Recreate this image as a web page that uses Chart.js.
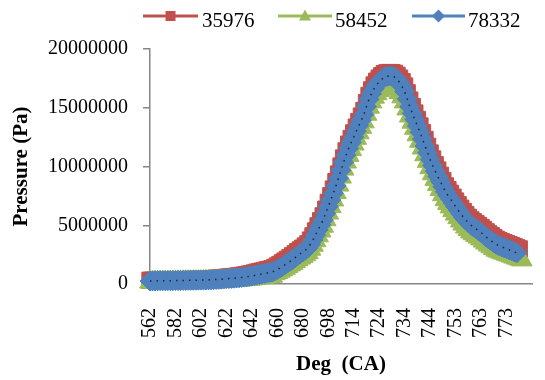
<!DOCTYPE html>
<html>
<head>
<meta charset="utf-8">
<script src="https://cdn.jsdelivr.net/npm/chart.js"></script>
<style>
  html, body { margin: 0; padding: 0; background: #ffffff; }
  #wrap { width: 545px; height: 380px; position: relative; }
</style>
</head>
<body>
<div id="wrap"><canvas id="c"></canvas></div>
<script>
// Crank angle categories (deg CA)
const categories = [
  562, 564, 566, 568, 570, 572, 574, 576, 578, 580,
  582, 584, 586, 588, 590, 592, 594, 596, 598, 600,
  602, 604, 606, 608, 610, 612, 614, 616, 618, 620,
  622, 624, 626, 628, 630, 632, 634, 636, 638, 640,
  642, 644, 646, 647, 649, 651, 653, 655, 656, 658,
  660, 662, 664, 666, 668, 670, 672, 674, 676, 678,
  680, 682, 684, 685, 687, 689, 691, 693, 694, 696,
  698, 700, 701, 703, 704, 706, 708, 709, 711, 712,
  714, 715, 716, 717, 718, 719, 720, 721, 722, 723,
  724, 725, 726, 727, 728, 729, 730, 731, 732, 733,
  734, 735, 736, 737, 738, 739, 740, 741, 742, 743,
  744, 744.9, 745.8, 746.7, 747.6, 748.5, 749.4, 750.3, 751.2, 752.1,
  753, 754, 755, 756, 757, 758, 759, 760, 761, 762,
  763, 764, 765, 766, 767, 768, 769, 770, 771, 772,
  773, 774, 775, 776, 777, 778, 779
];

const seriesNames = ['35976', '58452', '78332'];

// Pressure (Pa)
const s35976 = [
  320000, 323000, 327000, 331000, 335000, 339000, 343000, 346000, 350000, 354000,
  358000, 362000, 367000, 371000, 376000, 381000, 386000, 391000, 396000, 401000,
  407000, 413000, 420000, 435000, 450000, 470000, 490000, 505000, 525000, 545000,
  570000, 590000, 615000, 635000, 660000, 690000, 725000, 760000, 800000, 840000,
  880000, 940000, 1000000, 1050000, 1100000, 1150000, 1200000, 1250000, 1300000, 1410000,
  1530000, 1660000, 1800000, 1950000, 2100000, 2250000, 2400000, 2570000, 2750000, 2900000,
  3050000, 3230000, 3420000, 3740000, 4100000, 4520000, 4950000, 5380000, 5800000, 6370000,
  6950000, 7510000, 8080000, 8710000, 9360000, 10040000, 10720000, 11330000, 11900000, 12390000,
  12860000, 13350000, 13830000, 14290000, 14770000, 15440000, 16050000, 16520000, 16940000, 17260000,
  17520000, 17730000, 17900000, 17970000, 18000000, 17980000, 17930000, 17760000, 17520000, 17220000,
  16850000, 16270000, 15650000, 15100000, 14550000, 14000000, 13450000, 12870000, 12300000, 11720000,
  11150000, 10640000, 10150000, 9700000, 9250000, 8790000, 8350000, 8030000, 7720000, 7390000,
  7060000, 6750000, 6450000, 6170000, 5900000, 5670000, 5460000, 5300000, 5140000, 4980000,
  4810000, 4630000, 4440000, 4270000, 4110000, 3950000, 3800000, 3700000, 3600000, 3515000,
  3430000, 3345000, 3260000, 3170000, 3080000, 2990000
];

const s58452 = [
  160000, 162000, 164000, 166000, 168000, 170000, 172000, 174000, 176000, 178000,
  180000, 183000, 185000, 188000, 190000, 193000, 195000, 198000, 200000, 203000,
  206000, 209000, 212000, 217000, 222000, 228000, 235000, 243000, 252000, 262000,
  272000, 285000, 298000, 310000, 322000, 337000, 352000, 370000, 390000, 410000,
  432000, 460000, 490000, 520000, 550000, 580000, 610000, 640000, 670000, 880000,
  980000, 1090000, 1210000, 1340000, 1480000, 1620000, 1760000, 1910000, 2070000, 2210000,
  2350000, 2500000, 2670000, 2960000, 3300000, 3690000, 4100000, 4510000, 4920000, 5470000,
  6040000, 6590000, 7150000, 7780000, 8420000, 9100000, 9780000, 10380000, 10950000, 11440000,
  11910000, 12400000, 12870000, 13330000, 13800000, 14450000, 15050000, 15500000, 15900000, 16200000,
  16450000, 16640000, 16790000, 16870000, 16900000, 16870000, 16800000, 16580000, 16300000, 15930000,
  15500000, 14900000, 14300000, 13770000, 13250000, 12700000, 12150000, 11570000, 11000000, 10440000,
  9900000, 9380000, 8900000, 8460000, 8050000, 7600000, 7180000, 6860000, 6560000, 6250000,
  5950000, 5650000, 5360000, 5100000, 4850000, 4630000, 4430000, 4280000, 4140000, 3990000,
  3830000, 3650000, 3480000, 3320000, 3170000, 3020000, 2880000, 2790000, 2700000, 2620000,
  2540000, 2460000, 2380000, 2290000, 2210000, 2130000, 2050000
];

const s78332 = [
  255000, 258000, 262000, 266000, 270000, 274000, 278000, 280000, 283000, 287000,
  290000, 294000, 298000, 302000, 306000, 310000, 314000, 318000, 322000, 326000,
  331000, 335000, 340000, 348000, 357000, 370000, 383000, 395000, 408000, 425000,
  443000, 460000, 477000, 494000, 511000, 535000, 562000, 590000, 621000, 650000,
  681000, 722000, 766000, 808000, 851000, 893000, 936000, 978000, 1021000, 1120000,
  1234000, 1358000, 1489000, 1635000, 1787000, 1935000, 2085000, 2250000, 2426000, 2575000,
  2723000, 2880000, 3064000, 3380000, 3745000, 4160000, 4596000, 5020000, 5447000, 6010000,
  6596000, 7150000, 7719000, 8350000, 8996000, 9680000, 10357000, 10970000, 11548000, 12040000,
  12510000, 13000000, 13480000, 13940000, 14425000, 15100000, 15719000, 16200000, 16621000, 16950000,
  17217000, 17430000, 17600000, 17670000, 17702000, 17680000, 17617000, 17420000, 17149000, 16800000,
  16366000, 15750000, 15100000, 14540000, 14000000, 13450000, 12919000, 12330000, 11750000, 11170000,
  10600000, 10090000, 9600000, 9150000, 8736000, 8280000, 7851000, 7530000, 7226000, 6900000,
  6587000, 6280000, 5983000, 5700000, 5447000, 5220000, 5013000, 4850000, 4698000, 4540000,
  4374000, 4190000, 4000000, 3830000, 3668000, 3510000, 3362000, 3265000, 3174000, 3090000,
  3004000, 2915000, 2825000, 2735000, 2647000
];

const yTickValues = [0, 5000000, 10000000, 15000000, 20000000];
const xLabelEvery = 10;
const xAxisEnd = 150; // category slots on the axis

const RED = '#C0504D', GREEN = '#9BBB59', BLUE = '#4F81BD', AXIS = '#868686';
const SERIF = '"Liberation Serif", "Times New Roman", serif';

const toXY = arr => arr.map((v, i) => ({ x: i, y: v }));

// Excel-like legend: line + marker + name
const excelLegend = {
  id: 'excelLegend',
  afterDraw(chart) {
    const ctx = chart.ctx;
    const items = [
      { ds: 0, x0: 143, x1: 198, tx: 202, style: 'rect' },
      { ds: 1, x0: 278, x1: 332, tx: 335, style: 'triangle' },
      { ds: 2, x0: 412, x1: 465, tx: 468, style: 'rectRot' }
    ];
    const ly = 16;
    ctx.save();
    items.forEach(it => {
      const ds = chart.data.datasets[it.ds];
      const col = ds.borderColor;
      ctx.strokeStyle = col;
      ctx.lineWidth = 3;
      ctx.beginPath();
      ctx.moveTo(it.x0, ly);
      ctx.lineTo(it.x1, ly);
      ctx.stroke();
      const cx = (it.x0 + it.x1) / 2;
      ctx.fillStyle = col;
      ctx.beginPath();
      if (it.style === 'rect') { ctx.rect(cx - 5, ly - 5, 10, 10); }
      else if (it.style === 'triangle') { ctx.moveTo(cx, ly - 6.5); ctx.lineTo(cx + 6, ly + 4.5); ctx.lineTo(cx - 6, ly + 4.5); ctx.closePath(); }
      else { ctx.moveTo(cx, ly - 6.5); ctx.lineTo(cx + 6.5, ly); ctx.lineTo(cx, ly + 6.5); ctx.lineTo(cx - 6.5, ly); ctx.closePath(); }
      ctx.fill();
      ctx.fillStyle = '#000';
      ctx.font = '21px ' + SERIF;
      ctx.textBaseline = 'alphabetic';
      ctx.textAlign = 'left';
      ctx.fillText(ds.label, it.tx, 27);
    });
    ctx.restore();
  }
};

new Chart(document.getElementById('c'), {
  type: 'line',
  data: {
    datasets: [
      { label: seriesNames[0], data: toXY(s35976), borderColor: RED, backgroundColor: RED,
        pointStyle: 'rect', pointRadius: 11.5, pointBorderWidth: 1, borderWidth: 3, order: 3, clip: false },
      { label: seriesNames[1], data: toXY(s58452), borderColor: GREEN, backgroundColor: GREEN,
        pointStyle: 'triangle', pointRadius: 12, pointBorderWidth: 1, borderWidth: 3, order: 2, clip: false },
      { label: seriesNames[2], data: toXY(s78332), borderColor: BLUE, backgroundColor: BLUE,
        pointStyle: 'rectRot', pointRadius: 10, pointBorderWidth: 1, borderWidth: 3, order: 1, clip: false },
      { label: 'trend', data: toXY(s78332), borderColor: '#1b2440', borderWidth: 1.5, borderDash: [1.5, 5],
        pointRadius: 0, order: 0, clip: false }
    ]
  },
  options: {
    responsive: true,
    maintainAspectRatio: false,
    animation: false,
    devicePixelRatio: 1,
    layout: { padding: { top: 49, right: 2, bottom: 0, left: 0 } },
    plugins: { legend: { display: false }, tooltip: { enabled: false } },
    elements: { line: { tension: 0 } },
    scales: {
      x: {
        type: 'linear', min: 0, max: xAxisEnd,
        afterFit: s => { s.height = 96; s.paddingLeft = 0; s.paddingRight = 0; },
        afterBuildTicks: s => { s.ticks = categories.map((c, i) => i).filter(i => i % xLabelEvery === 0).map(v => ({ value: v })); },
        ticks: {
          autoSkip: false, maxRotation: 90, minRotation: 90, padding: 24,
          color: '#000', font: { family: SERIF, size: 20 },
          callback: v => categories[v] !== undefined ? String(categories[v]) : ''
        },
        grid: { display: false, drawTicks: false },
        border: { display: true, color: AXIS, width: 1.5 },
        title: { display: true, text: 'Deg  (CA)', color: '#000',
          font: { family: SERIF, size: 21, weight: 'bold' }, padding: { top: 0, bottom: 3 } }
      },
      y: {
        min: 0, max: 20000000,
        afterFit: s => { s.width = 150; },
        afterBuildTicks: s => { s.ticks = yTickValues.map(v => ({ value: v })); },
        ticks: { padding: 15, color: '#000', font: { family: SERIF, size: 20 }, callback: v => String(v) },
        grid: { drawOnChartArea: false, drawTicks: true, tickLength: 7, color: AXIS, lineWidth: 1.5 },
        border: { display: true, color: AXIS, width: 1.5 },
        title: { display: true, text: 'Pressure (Pa)', color: '#000',
          font: { family: SERIF, size: 21, weight: 'bold' }, padding: { top: 9, bottom: 0 } }
      }
    }
  },
  plugins: [excelLegend]
});
</script>
</body>
</html>
